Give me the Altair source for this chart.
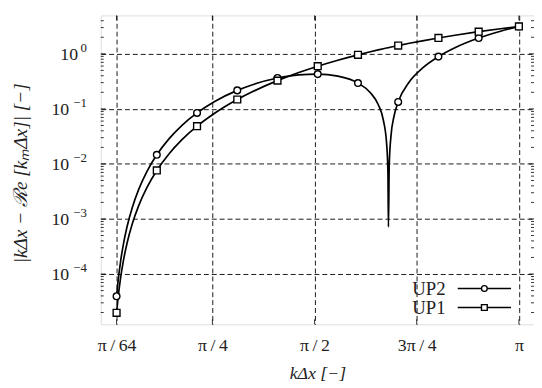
import altair as alt
import pandas as pd

# ---- data ----
x_line = [0.04909, 0.06, 0.08, 0.10, 0.13, 0.17, 0.22, 0.28, 0.35834, 0.45, 0.55,
          0.66759, 0.80, 0.97684, 1.10, 1.28609, 1.45, 1.59534, 1.75, 1.90459, 2.00,
          2.06, 2.10, 2.125, 2.135, 2.13875, 2.145, 2.16, 2.18, 2.21384, 2.30, 2.40,
          2.52309, 2.65, 2.83234, 3.00, 3.14159]
up1_line = [1.972e-5, 3.600e-5, 8.530e-5, 1.666e-4, 3.659e-4, 8.177e-4, 1.770e-3,
            3.644e-3, 7.620e-3, 1.5034e-2, 2.7313e-2, 4.8495e-2, 8.2644e-2, 0.148107,
            0.208793, 0.326346, 0.457287, 0.595641, 0.766014, 0.959784, 1.090703,
            1.177293, 1.236791, 1.274680, 1.289985, 1.295745, 1.305375, 1.328616,
            1.359896, 1.413566, 1.554295, 1.724537, 1.943275, 2.177969, 2.527993,
            2.858880, 3.141593]
up2_line = [3.943e-5, 7.191e-5, 1.703e-4, 3.322e-4, 7.280e-4, 1.621e-3, 3.489e-3,
            7.119e-3, 1.4658e-2, 2.8268e-2, 4.9770e-2, 8.4414e-2, 0.134925, 0.216831,
            0.278167, 0.363829, 0.415801, 0.428593, 0.393364, 0.294569, 0.196995,
            0.120218, 0.062206, 0.023134, 6.897e-3, 7.17e-4, 9.692e-3, 3.5233e-2,
            7.0516e-2, 0.133421, 0.311744, 0.550992, 0.891057, 1.289804, 1.933737,
            2.578052, 3.141593]

x_mark = [0.04909, 0.35834, 0.66759, 0.97684, 1.28609, 1.59534, 1.90459, 2.21384,
          2.52309, 2.83234, 3.14159]
up1_mark = [1.972e-5, 7.620e-3, 4.8495e-2, 0.148107, 0.326346, 0.595641, 0.959784,
            1.413566, 1.943275, 2.527993, 3.141593]
up2_mark = [3.943e-5, 1.4658e-2, 8.4414e-2, 0.216831, 0.363829, 0.428593, 0.294569,
            0.133421, 0.891057, 1.933737, 3.141593]

series_names = ["UP2", "UP1"]
series_shapes = ["circle", "square"]

x_tick_vals = [0.0490874, 0.7853982, 1.5707963, 2.3561945, 3.1415927]
x_tick_labels = ["π\u2009/\u200964", "π\u2009/\u20094", "π\u2009/\u20092", "3π\u2009/\u20094", "π"]
y_tick_vals = [1e-4, 1e-3, 1e-2, 1e-1, 1.0]
y_tick_base = "10"
y_tick_exps = ["−4", "−3", "−2", "−1", "0"]
minor_vals = [m * 10.0 ** e for e in range(-5, 1) for m in range(2, 10)
              if 1.22e-5 <= m * 10.0 ** e <= 4.99]

# ---- layout ----
W, H = 439, 313
FONT = "Liberation Serif"
FS = 18


def label_expr(vals, labels):
    expr = "'" + labels[-1] + "'"
    for i in range(len(vals) - 2, -1, -1):
        thr = (vals[i] + vals[i + 1]) / 2
        expr = f"datum.value < {thr} ? '{labels[i]}' : ({expr})"
    return expr


X = alt.X("x:Q", scale=alt.Scale(domain=[-0.0724, 3.2577], nice=False, zero=False),
          axis=alt.Axis(values=x_tick_vals, labelExpr=label_expr(x_tick_vals, x_tick_labels),
                        grid=True, gridDash=[5, 3], gridColor="#000", gridWidth=0.9,
                        gridOpacity=1, ticks=False, domain=False,
                        labelFont=FONT, labelFontSize=FS, labelColor="#222", labelPadding=13,
                        title="kΔx [−]", titleFont=FONT, titleFontSize=18,
                        titleFontWeight="normal", titleFontStyle="italic", titleColor="#222",
                        titleX=W / 2, titleY=50, titleBaseline="middle", titleAlign="center"))
Y = alt.Y("y:Q", scale=alt.Scale(type="log", domain=[1.22e-5, 4.99], nice=False),
          axis=alt.Axis(values=y_tick_vals, labels=False,
                        grid=True, gridDash=[5, 3], gridColor="#000", gridWidth=0.9,
                        gridOpacity=1, ticks=False, domain=False,
                        title="|kΔx − ℛe [kₘΔx]| [−]", titleFont=FONT, titleFontSize=19.5,
                        titleFontWeight="normal", titleFontStyle="italic", titleColor="#222",
                        titleX=-81, titleY=H / 2 + 3, titleAngle=270, titleBaseline="middle",
                        titleAlign="center"))

df_up2 = pd.DataFrame({"x": x_line, "y": up2_line})
df_up1 = pd.DataFrame({"x": x_line, "y": up1_line})
dm_up2 = pd.DataFrame({"x": x_mark, "y": up2_mark})
dm_up1 = pd.DataFrame({"x": x_mark, "y": up1_mark})
df_minor = pd.DataFrame({"y": minor_vals})
df_major = pd.DataFrame({"y": y_tick_vals})
df_xmaj = pd.DataFrame({"x": x_tick_vals})

line_style = dict(color="black", strokeWidth=1.7, interpolate="monotone", clip=True)
pt_style = dict(filled=True, fill="white", stroke="black", strokeWidth=1.4, opacity=1)

layers = []
layers.append(alt.Chart(df_up2).mark_line(**line_style).encode(x=X, y=Y))
layers.append(alt.Chart(df_up1).mark_line(**line_style).encode(x=X, y=Y))
layers.append(alt.Chart(dm_up2).mark_point(shape="circle", size=46, **pt_style).encode(x=X, y=Y))
layers.append(alt.Chart(dm_up1).mark_point(shape="square", size=48, **pt_style).encode(x=X, y=Y))

tick_style = dict(color="black", strokeWidth=0.8)
# minor / major ticks drawn inside the frame
layers.append(alt.Chart(df_minor).mark_rule(**tick_style).encode(y=Y, x=alt.value(0), x2=alt.value(3)))
layers.append(alt.Chart(df_minor).mark_rule(**tick_style).encode(y=Y, x=alt.value(W - 3), x2=alt.value(W)))
layers.append(alt.Chart(df_major).mark_rule(**tick_style).encode(y=Y, x=alt.value(0), x2=alt.value(5)))
layers.append(alt.Chart(df_major).mark_rule(**tick_style).encode(y=Y, x=alt.value(W - 5), x2=alt.value(W)))
layers.append(alt.Chart(df_xmaj).mark_rule(**tick_style).encode(x=X, y=alt.value(H - 5), y2=alt.value(H)))
layers.append(alt.Chart(df_xmaj).mark_rule(**tick_style).encode(x=X, y=alt.value(0), y2=alt.value(5)))

# y tick labels: "10" with a raised exponent
for val, ex in zip(y_tick_vals, y_tick_exps):
    d = pd.DataFrame({"y": [val], "base": [y_tick_base], "exp": [ex]})
    exp_w = 8 if len(ex) == 1 else 17
    layers.append(alt.Chart(d).mark_text(font=FONT, fontSize=FS, align="right",
                                         baseline="middle", color="#222", dy=1).encode(
        y=Y, x=alt.value(-14 - exp_w - 1), text="base:N"))
    layers.append(alt.Chart(d).mark_text(font=FONT, fontSize=13, align="right",
                                         baseline="middle", color="#222", dy=-6).encode(
        y=Y, x=alt.value(-14), text="exp:N"))

# manual legend (labels to the left of the symbols)
leg_y = [276.7, 296.0]
for name, shape, ly in zip(series_names, series_shapes, leg_y):
    d = pd.DataFrame({"name": [name]})
    layers.append(alt.Chart(d).mark_text(font=FONT, fontSize=FS + 1, align="right",
                                         baseline="middle", color="#222").encode(
        text="name:N", x=alt.value(349.5), y=alt.value(ly + 1)))
    layers.append(alt.Chart(d).mark_rule(color="black", strokeWidth=1.6).encode(
        x=alt.value(361.7), x2=alt.value(415.7), y=alt.value(ly)))
    layers.append(alt.Chart(d).mark_point(shape=shape, size=34, **pt_style).encode(
        x=alt.value(388.7), y=alt.value(ly)))

chart = alt.layer(*layers).properties(
    width=W, height=H, autosize="none",
    padding={"left": 94, "top": 5, "right": 0, "bottom": 60},
).configure_view(stroke="black", strokeWidth=1.1).configure(background="white")

chart.save("out.html", embed_options={"renderer": "svg", "actions": False})
